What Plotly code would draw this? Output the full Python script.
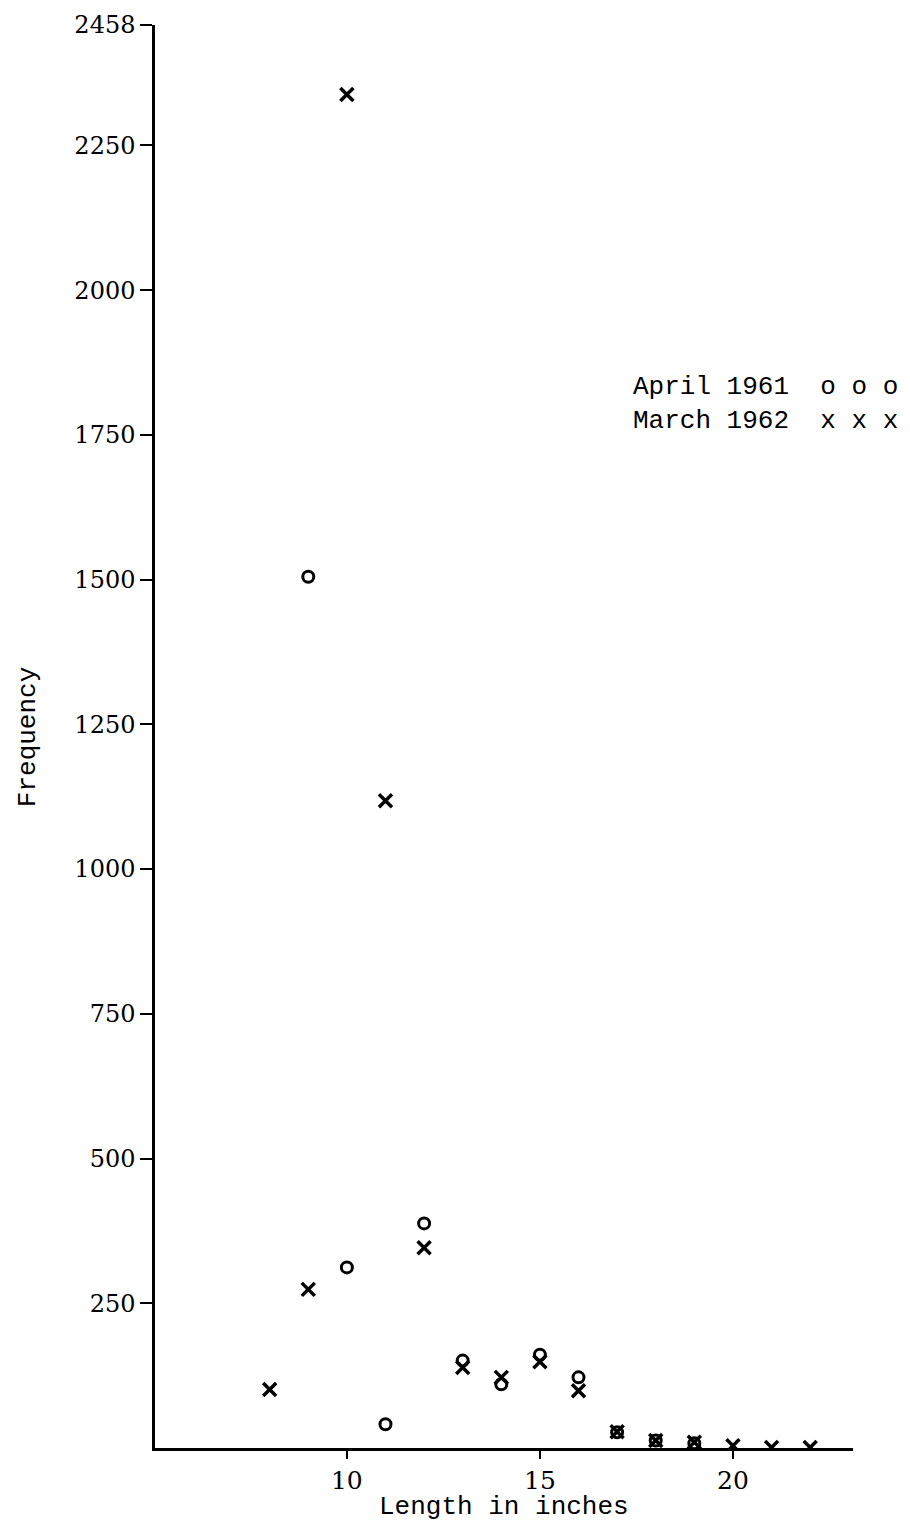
import plotly.graph_objects as go

# Data
april_lengths = [9, 10, 11, 12, 13, 14, 15, 16, 17, 18, 19]
april_freq = [1505, 312, 41, 388, 151, 110, 161, 122, 27, 13, 8]

march_lengths = [8, 9, 10, 11, 12, 13, 14, 15, 16, 17, 18, 19, 20, 21, 22]
march_freq = [101, 274, 2338, 1118, 346, 139, 122, 149, 99, 28, 13, 10, 4, 1, 1]

y_ticks = [250, 500, 750, 1000, 1250, 1500, 1750, 2000, 2250, 2458]
x_ticks = [10, 15, 20]

mono = "Liberation Mono"
serif = "DejaVu Serif"

fig = go.Figure()
fig.add_trace(go.Scatter(
    x=april_lengths, y=april_freq, mode="markers", name="April 1961",
    marker=dict(symbol="circle-open", size=11, color="black",
                line=dict(color="black", width=3)),
))
fig.add_trace(go.Scatter(
    x=march_lengths, y=march_freq, mode="markers", name="March 1962",
    marker=dict(symbol="x-thin-open", size=13, color="black",
                line=dict(color="black", width=3.5)),
))

fig.update_layout(
    width=910, height=1527,
    margin=dict(l=155, r=57, t=25, b=79),
    paper_bgcolor="white", plot_bgcolor="white",
    showlegend=False,
    font=dict(family=serif, color="black", size=24),
)
fig.update_xaxes(
    range=[5.03, 23.11], showgrid=False, zeroline=False,
    showline=True, linecolor="black", linewidth=2.5,
    tickmode="array", tickvals=x_ticks, ticktext=[str(v) for v in x_ticks],
    ticks="outside", ticklen=8, tickwidth=2, tickcolor="black",
    tickfont=dict(family=serif, size=25, color="black"),
)
fig.update_yaxes(
    range=[0, 2458], showgrid=False, zeroline=False,
    showline=True, linecolor="black", linewidth=2.5,
    tickmode="array", tickvals=y_ticks, ticktext=[str(v) for v in y_ticks],
    ticks="outside", ticklen=12, tickwidth=2, tickcolor="black",
    tickfont=dict(family=serif, size=24, color="black"),
)

annotations = [
    dict(text="April 1961  o o o", x=0.682, y=0.7456, xref="paper", yref="paper",
         xanchor="left", yanchor="middle", showarrow=False,
         font=dict(family=mono, size=26, color="black")),
    dict(text="March 1962  x x x", x=0.682, y=0.7217, xref="paper", yref="paper",
         xanchor="left", yanchor="middle", showarrow=False,
         font=dict(family=mono, size=26, color="black")),
    dict(text="Length in inches", x=0.5, y=-0.0415, xref="paper", yref="paper",
         xanchor="center", yanchor="middle", showarrow=False,
         font=dict(family=mono, size=26, color="black")),
    dict(text="Frequency", x=-0.182, y=0.4995, xref="paper", yref="paper",
         xanchor="center", yanchor="middle", showarrow=False, textangle=-90,
         font=dict(family=mono, size=26, color="black")),
]
fig.update_layout(annotations=annotations)

fig.write_html("out.html")
